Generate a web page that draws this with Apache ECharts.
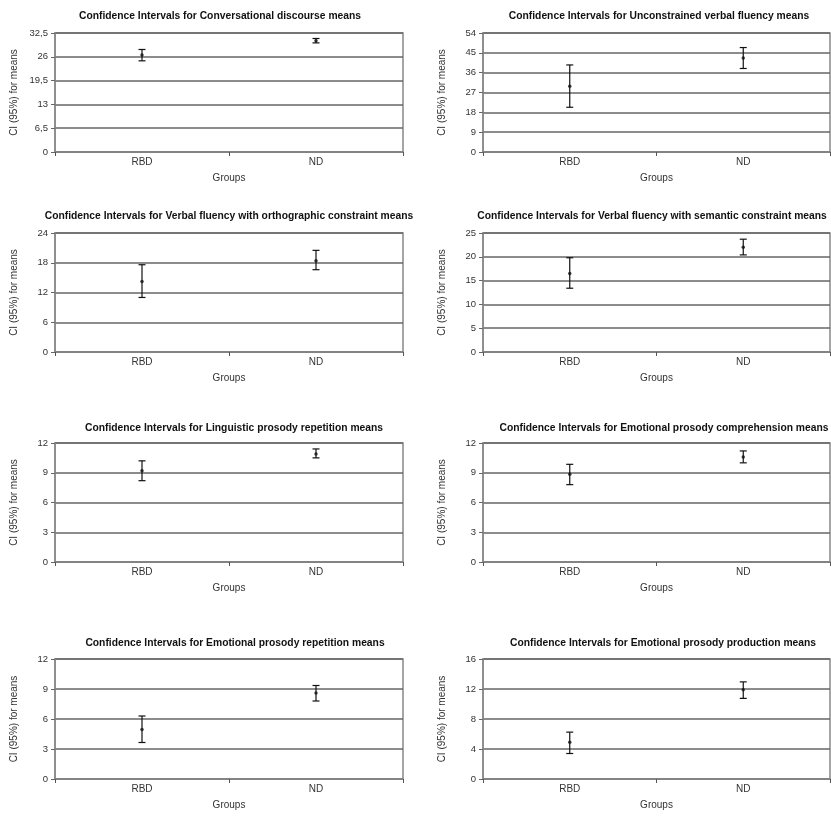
<!DOCTYPE html>
<html>
<head>
<meta charset="utf-8">
<script src="https://cdn.jsdelivr.net/npm/echarts@6/dist/echarts.min.js"></script>
<style>
  html, body { margin: 0; padding: 0; background: #fff; }
  #main { width: 831px; height: 824px; }
</style>
</head>
<body>
<div id="main"></div>
<script>
// data
var groups = ['RBD', 'ND'];
var titles = [
  'Confidence Intervals for Conversational discourse means',
  'Confidence Intervals for Unconstrained verbal fluency means',
  'Confidence Intervals for Verbal fluency with orthographic constraint means',
  'Confidence Intervals for Verbal fluency with semantic constraint means',
  'Confidence Intervals for Linguistic prosody repetition means',
  'Confidence Intervals for Emotional prosody comprehension means',
  'Confidence Intervals for Emotional prosody repetition means',
  'Confidence Intervals for Emotional prosody production means'
];
var rbdMean = [26.5, 29.8, 14.2, 16.5, 9.2, 8.85, 4.95, 4.9];
var rbdLow  = [24.9, 20.3, 11.0, 13.4, 8.2, 7.8, 3.65, 3.4];
var rbdHigh = [28.0, 39.5, 17.6, 19.8, 10.2, 9.85, 6.3, 6.25];
var ndMean  = [30.4, 42.7, 18.4, 22.0, 10.9, 10.6, 8.6, 11.9];
var ndLow   = [29.8, 37.9, 16.6, 20.4, 10.5, 10.0, 7.8, 10.75];
var ndHigh  = [31.0, 47.4, 20.5, 23.7, 11.4, 11.2, 9.35, 12.95];
var yMax  = [32.5, 54, 24, 25, 12, 12, 12, 16];
var yStep = [6.5, 9, 6, 5, 3, 3, 3, 4];

// layout
var colLeft = [55, 483];
var colWidth = [348, 347];
var rowTop = [33, 233, 443, 659];
var rowHeight = [119, 119, 119, 120];
var titleTop = [6, 206, 418, 633];
var titleX = [215, 654, 224, 647, 229, 659, 230, 658];

var font = 'Liberation Sans, Arial, sans-serif';
var chart = echarts.init(document.getElementById('main'));

var option = { animation: false, title: [], grid: [], xAxis: [], yAxis: [], series: [] };

for (var i = 0; i < 8; i++) {
  var col = i % 2, row = Math.floor(i / 2);
  option.title.push({
    text: titles[i],
    left: titleX[i],
    top: titleTop[row],
    textAlign: 'center',
    textStyle: { fontFamily: font, fontSize: 10.3, fontWeight: 'bold', color: '#111' }
  });
  option.grid.push({
    left: colLeft[col], top: rowTop[row], width: colWidth[col], height: rowHeight[row],
    show: true, borderColor: '#888', borderWidth: 1.5, backgroundColor: 'transparent'
  });
  option.xAxis.push({
    type: 'category', gridIndex: i, data: groups, boundaryGap: true,
    name: 'Groups', nameLocation: 'middle', nameGap: 21,
    nameTextStyle: { fontFamily: font, fontSize: 10, color: '#333' },
    axisLine: { lineStyle: { color: '#888', width: 1.5 } },
    axisTick: { show: true, length: 4, lineStyle: { color: '#555' } },
    axisLabel: { fontFamily: font, fontSize: 10, color: '#333', margin: 5 },
    splitLine: { show: false }
  });
  option.yAxis.push({
    type: 'value', gridIndex: i, min: 0, max: yMax[i], interval: yStep[i],
    name: 'CI (95%) for means', nameLocation: 'middle', nameGap: 36,
    nameTextStyle: { fontFamily: font, fontSize: 10, color: '#333' },
    axisLine: { show: true, lineStyle: { color: '#888', width: 1.5 } },
    axisTick: { show: true, length: 4, lineStyle: { color: '#666' } },
    axisLabel: {
      fontFamily: font, fontSize: 9.5, color: '#333', margin: 7,
      formatter: function (v) { return String(v).replace('.', ','); }
    },
    splitLine: { show: true, lineStyle: { color: '#666', width: 1.5 } }
  });
  option.series.push({
    type: 'custom', xAxisIndex: i, yAxisIndex: i,
    data: [[0, rbdLow[i], rbdHigh[i]], [1, ndLow[i], ndHigh[i]]],
    renderItem: function (params, api) {
      var lo = api.coord([api.value(0), api.value(1)]);
      var hi = api.coord([api.value(0), api.value(2)]);
      var w = 3.5;
      var st = { stroke: '#111', lineWidth: 1.2 };
      return {
        type: 'group',
        children: [
          { type: 'line', shape: { x1: lo[0], y1: lo[1], x2: hi[0], y2: hi[1] }, style: st },
          { type: 'line', shape: { x1: lo[0] - w, y1: lo[1], x2: lo[0] + w, y2: lo[1] }, style: st },
          { type: 'line', shape: { x1: hi[0] - w, y1: hi[1], x2: hi[0] + w, y2: hi[1] }, style: st }
        ]
      };
    },
    z: 3
  });
  option.series.push({
    type: 'scatter', xAxisIndex: i, yAxisIndex: i,
    data: [[0, rbdMean[i]], [1, ndMean[i]]],
    symbol: 'circle', symbolSize: 3.5,
    itemStyle: { color: '#111' },
    z: 4
  });
}

chart.setOption(option);
</script>
</body>
</html>
